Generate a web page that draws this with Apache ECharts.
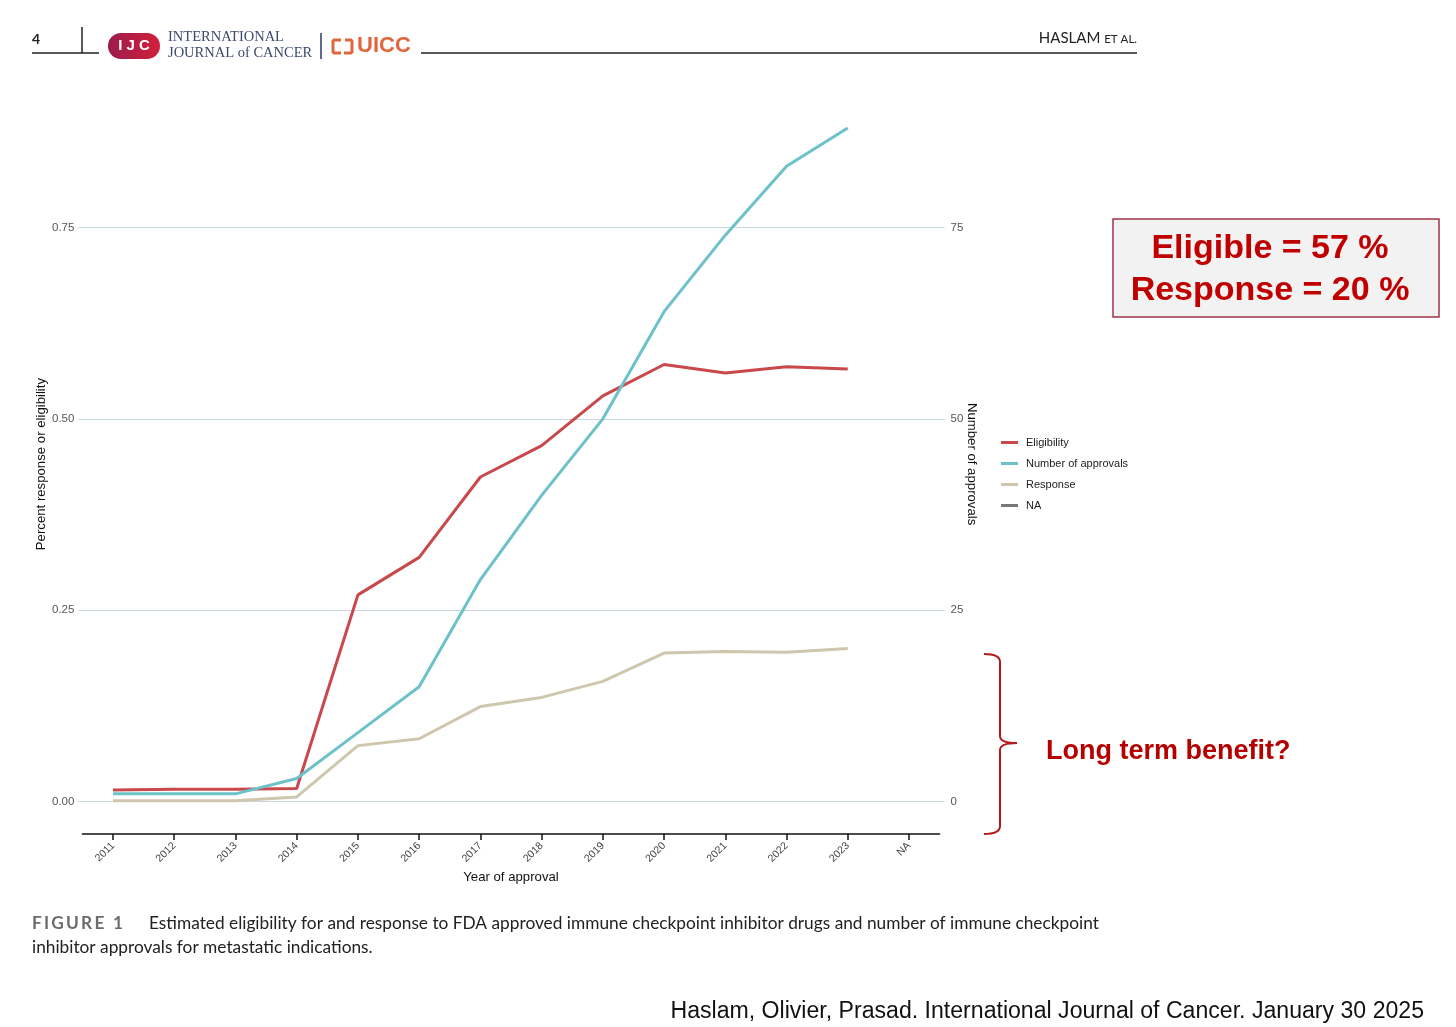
<!DOCTYPE html>
<html>
<head>
<meta charset="utf-8">
<script src="https://cdn.jsdelivr.net/npm/echarts@6/dist/echarts.min.js"></script>
<style>
html,body{margin:0;padding:0;background:#fff;}
#chart{width:1456px;height:1027px;}
</style>
</head>
<body>
<div id="chart"></div>
<script>
// ---- data ----
const years = ['2011','2012','2013','2014','2015','2016','2017','2018','2019','2020','2021','2022','2023','NA'];
const eligibility = [0.015, 0.016, 0.016, 0.017, 0.270, 0.319, 0.424, 0.465, 0.530, 0.571, 0.560, 0.568, 0.565];
const approvals   = [1, 1, 1, 3, 9, 15, 29, 40, 50, 64, 74, 83, 88];
const response    = [0.001, 0.001, 0.001, 0.006, 0.073, 0.082, 0.124, 0.136, 0.157, 0.194, 0.196, 0.195, 0.200];
const naSeries    = [];
const leftTicks   = [0, 0.25, 0.5, 0.75];
const rightTicks  = [0, 25, 50, 75];

const GRID_COLOR = '#c9d7dd';
const chart = echarts.init(document.getElementById('chart'), null, {renderer: 'canvas'});

const darkRed = '#c00000';
const braceColor = '#b31b1b';
const uicc = '#e0673d';

function spaced(str) {
  return str.split('').map(ch => ch === ' ' ? '{s| }' : '{c|' + ch + '}').join('');
}

const option = {
  backgroundColor: '#ffffff',
  animation: false,
  textStyle: {fontFamily: 'Liberation Sans, Arial, sans-serif'},
  grid: {left: 82.4, top: 112.7, width: 857.2, height: 688.8, containLabel: false},
  legend: {
    orient: 'vertical', left: 996, top: 432,
    icon: 'rect', itemWidth: 17, itemHeight: 3, itemGap: 10,
    textStyle: {fontSize: 11, color: '#222', padding: [0, 0, 0, 3], fontFamily: 'Liberation Sans, Arial, sans-serif'},
    data: ['Eligibility', 'Number of approvals', 'Response', 'NA']
  },
  xAxis: {
    type: 'category', data: years, boundaryGap: true, offset: 32.5,
    name: 'Year of approval', nameLocation: 'middle', nameGap: 37, nameMoveOverlap: false,
    nameTextStyle: {fontSize: 13.2, color: '#111'},
    axisLine: {onZero: false, lineStyle: {color: '#111', width: 1.5}},
    axisTick: {show: true, alignWithLabel: true, length: 6, lineStyle: {color: '#111', width: 1.5}},
    axisLabel: {rotate: 45, fontSize: 10.5, color: '#444', margin: 10},
    splitLine: {show: false}
  },
  yAxis: [{
    type: 'value', min: 0, max: 0.9, interval: 0.25,
    name: 'Percent response or eligibility', nameLocation: 'middle', nameGap: 35, nameMoveOverlap: false,
    nameTextStyle: {fontSize: 13.2, color: '#111', padding: [0, 14, 0, 0]},
    axisLine: {show: false},
    axisTick: {show: true, length: 4, lineStyle: {color: GRID_COLOR}},
    axisLabel: {fontSize: 11.5, color: '#555', margin: 8, showMaxLabel: false,
      formatter: v => leftTicks.indexOf(v) >= 0 ? v.toFixed(2) : ''},
    splitLine: {show: true, showMaxLine: false, lineStyle: {color: GRID_COLOR, width: 1}}
  }, {
    type: 'value', min: 0, max: 90, interval: 25, position: 'right',
    name: 'Number of approvals', nameLocation: 'middle', nameGap: 25.5, nameRotate: -90, nameMoveOverlap: false,
    nameTextStyle: {fontSize: 13.2, color: '#111', padding: [0, 0, 0, 14]},
    axisLine: {show: false},
    axisTick: {show: true, length: 5, lineStyle: {color: GRID_COLOR}},
    axisLabel: {fontSize: 11.5, color: '#555', margin: 11, showMaxLabel: false,
      formatter: v => rightTicks.indexOf(v) >= 0 ? String(v) : ''},
    splitLine: {show: false}
  }],
  series: [
    {name: 'Eligibility', type: 'line', yAxisIndex: 0, data: eligibility, symbol: 'none', clip: false,
      lineStyle: {color: '#c8484b', width: 3}, itemStyle: {color: '#c8484b'}},
    {name: 'Number of approvals', type: 'line', yAxisIndex: 1, data: approvals, symbol: 'none', clip: false,
      lineStyle: {color: '#6dc1c9', width: 3}, itemStyle: {color: '#6dc1c9'}},
    {name: 'Response', type: 'line', yAxisIndex: 0, data: response, symbol: 'none', clip: false,
      lineStyle: {color: '#cfc7ad', width: 3}, itemStyle: {color: '#cfc7ad'}},
    {name: 'NA', type: 'line', yAxisIndex: 0, data: naSeries, symbol: 'none',
      lineStyle: {color: '#777777', width: 3}, itemStyle: {color: '#777777'}}
  ],
  graphic: [
    // header
    {type: 'text', x: 32, y: 32, style: {text: '4', fontSize: 14, fontWeight: 'bold', fill: '#222', fontFamily: 'Lato, sans-serif'}},
    {type: 'line', shape: {x1: 32, y1: 53, x2: 99, y2: 53}, style: {stroke: '#222', lineWidth: 1.5}},
    {type: 'line', shape: {x1: 82, y1: 27, x2: 82, y2: 53}, style: {stroke: '#222', lineWidth: 1.5}},
    {type: 'rect', shape: {x: 108, y: 33, width: 52, height: 26, r: 13},
      style: {fill: new echarts.graphic.LinearGradient(0, 0, 1, 0, [{offset: 0, color: '#9b1b4d'}, {offset: 1, color: '#d2203c'}])}},
    {type: 'text', x: 134, y: 46, style: {text: 'I J C', fontSize: 15, fontWeight: 'bold', fill: '#fff', align: 'center', verticalAlign: 'middle', fontFamily: 'Liberation Sans, Arial'}},
    {type: 'text', x: 168, y: 30, style: {text: 'INTERNATIONAL', fontSize: 14.5, fill: '#3c4a6b', fontFamily: 'Liberation Serif, serif'}},
    {type: 'text', x: 168, y: 46, style: {text: 'JOURNAL of CANCER', fontSize: 14.5, fill: '#3c4a6b', fontFamily: 'Liberation Serif, serif'}},
    {type: 'line', shape: {x1: 321, y1: 33, x2: 321, y2: 59}, style: {stroke: '#2a3a6a', lineWidth: 1.5}},
    {type: 'polyline', shape: {points: [[341, 40], [334, 40], [333, 41], [333, 52], [334, 53], [341, 53]]}, style: {fill: 'none', stroke: uicc, lineWidth: 3}},
    {type: 'polyline', shape: {points: [[345, 40], [351, 40], [352, 41], [352, 52], [351, 53], [344, 53]]}, style: {fill: 'none', stroke: uicc, lineWidth: 3}},
    {type: 'text', x: 357, y: 35, style: {text: 'UICC', fontSize: 22, fontWeight: 'bold', fill: uicc, fontFamily: 'Liberation Sans, Arial'}},
    {type: 'line', shape: {x1: 421, y1: 53, x2: 1137, y2: 53}, style: {stroke: '#222', lineWidth: 1.5}},
    {type: 'text', x: 1137, y: 31, style: {text: '{a|HASLAM }{b|ET AL.}', align: 'right', fill: '#222', fontFamily: 'Lato, sans-serif',
      rich: {a: {fontSize: 15, fontFamily: 'Lato, sans-serif', fill: '#222'}, b: {fontSize: 11.5, fontFamily: 'Lato, sans-serif', fill: '#222', padding: [2, 0, 0, 0]}}}},
    // annotation box
    {type: 'rect', shape: {x: 1113, y: 219, width: 326, height: 98}, style: {fill: '#f2f2f2', stroke: '#a33048', lineWidth: 1.5}},
    {type: 'text', x: 1270, y: 249, style: {text: 'Eligible = 57 %', fontSize: 34, fontWeight: 'bold', fill: darkRed, align: 'center', verticalAlign: 'middle', fontFamily: 'Liberation Sans, Arial'}},
    {type: 'text', x: 1270, y: 291, style: {text: 'Response = 20 %', fontSize: 34, fontWeight: 'bold', fill: darkRed, align: 'center', verticalAlign: 'middle', fontFamily: 'Liberation Sans, Arial'}},
    // brace
    {type: 'bezierCurve', shape: {x1: 984, y1: 654, cpx1: 1000, cpy1: 654, x2: 1000, y2: 662}, style: {fill: 'none', stroke: braceColor, lineWidth: 2}},
    {type: 'line', shape: {x1: 1000, y1: 662, x2: 1000, y2: 736}, style: {stroke: braceColor, lineWidth: 2}},
    {type: 'bezierCurve', shape: {x1: 1000, y1: 736, cpx1: 1000, cpy1: 743, x2: 1017, y2: 743}, style: {fill: 'none', stroke: braceColor, lineWidth: 2}},
    {type: 'bezierCurve', shape: {x1: 1017, y1: 743, cpx1: 1000, cpy1: 743, x2: 1000, y2: 750}, style: {fill: 'none', stroke: braceColor, lineWidth: 2}},
    {type: 'line', shape: {x1: 1000, y1: 750, x2: 1000, y2: 826}, style: {stroke: braceColor, lineWidth: 2}},
    {type: 'bezierCurve', shape: {x1: 1000, y1: 826, cpx1: 1000, cpy1: 834, x2: 984, y2: 834}, style: {fill: 'none', stroke: braceColor, lineWidth: 2}},
    {type: 'text', x: 1046, y: 752, style: {text: 'Long term benefit?', fontSize: 27, fontWeight: 'bold', fill: '#b50000', verticalAlign: 'middle', fontFamily: 'Liberation Sans, Arial'}},
    // caption
    {type: 'text', x: 32, y: 915, style: {text: spaced('FIGURE 1'), fontFamily: 'Lato, sans-serif',
      rich: {c: {fontSize: 17.3, fontWeight: 'bold', fill: '#6b6b6b', fontFamily: 'Lato, sans-serif', padding: [0, 2.2, 0, 0]},
             s: {fontSize: 17.3, fontWeight: 'bold', fill: '#6b6b6b', fontFamily: 'Lato, sans-serif', padding: [0, 2.2, 0, 0]}}}},
    {type: 'text', x: 149, y: 915, style: {text: 'Estimated eligibility for and response to FDA approved immune checkpoint inhibitor drugs and number of immune checkpoint', fontSize: 17.3, fill: '#222', fontFamily: 'Lato, sans-serif'}},
    {type: 'text', x: 32, y: 939, style: {text: 'inhibitor approvals for metastatic indications.', fontSize: 17.3, fill: '#222', fontFamily: 'Lato, sans-serif'}},
    // citation
    {type: 'text', x: 1424, y: 1012, style: {text: 'Haslam, Olivier, Prasad. International Journal of Cancer. January 30 2025', fontSize: 23.1, fill: '#111', align: 'right', verticalAlign: 'middle', fontFamily: 'Liberation Sans, Arial'}}
  ]
};
chart.setOption(option);
</script>
</body>
</html>
